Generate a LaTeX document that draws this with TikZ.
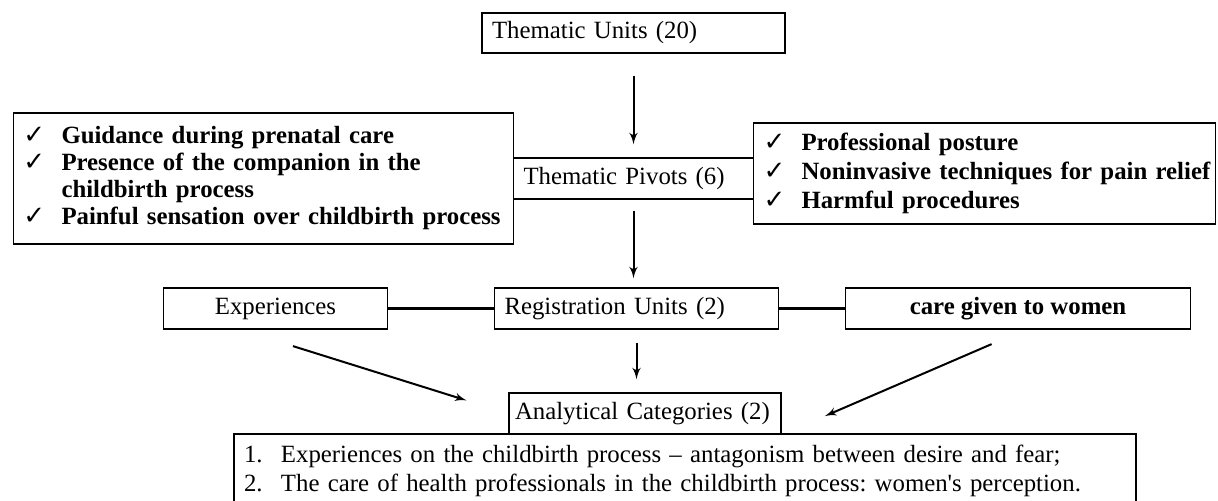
\documentclass[tikz,border=0pt]{standalone}
\usepackage{fontspec}
\setmainfont{Liberation Serif}
\newfontfamily\checkfont{DejaVu Sans}
\usepackage{tikz}
\usetikzlibrary{shapes,arrows}
\frenchspacing
\newcommand{\checkmk}{{\checkfont\bfseries\fontsize{13}{13}\selectfont ✓}}
\tikzstyle{line} = [draw, -latex', line width=1pt]
\tikzstyle{link} = [draw, line width=1.4pt]
\tikzstyle{block} = [draw, rectangle, line width=0.7pt, inner xsep=5pt, inner ysep=0pt, minimum height=20.5pt, align=left]
\tikzstyle{tag} = [draw, rectangle, line width=0.7pt, text centered, inner ysep=0pt, minimum height=20.5pt]
\tikzstyle{checks} = [draw, rectangle, line width=0.7pt, inner xsep=5pt, inner ysep=0pt, align=left]

\begin{document}
\begin{tikzpicture}[node distance=1.5cm, auto, font=\fontsize{12.4}{13.8}\selectfont]
        \useasboundingbox (0,0) rectangle (609pt,-250.5pt);
        \node[block, text width=141.5pt, minimum height=20pt] at (316.75pt,-16.5pt) (units) {Thematic Units (20)};
        \node[block, text width=110pt, below of=units, node distance=72.75pt] (pivots) {Thematic Pivots (6)};
        \node[checks, text width=240pt, minimum height=65.5pt, left of=pivots, node distance=185pt,
              font=\fontsize{12.4}{13.6}\selectfont\bfseries] (guide) {%
            \begin{tabular}{@{}p{19pt}@{}l@{}}
            \checkmk & Guidance during prenatal care\\
            \checkmk & Presence of the companion in the\\
                     & childbirth process\\
            \checkmk & Painful sensation over childbirth process
            \end{tabular}};
        \node[checks, text width=221pt, minimum height=50.5pt, right of=pivots, node distance=175.5pt, yshift=2.5pt,
              font=\fontsize{12.4}{14.5}\selectfont\bfseries] (posture) {%
            \begin{tabular}{@{}p{19pt}@{}l@{}}
            \checkmk & Professional posture\\
            \checkmk & Noninvasive techniques for pain relief\\
            \checkmk & Harmful procedures
            \end{tabular}};
        \node[block, text width=132pt, below of=pivots, node distance=65pt, xshift=1.5pt] (regis) {Registration Units (2)};
        \node[tag, minimum width=112pt, left of=regis, node distance=180.5pt] (exper) {Experiences};
        \node[tag, minimum width=172.5pt, right of=regis, node distance=190.75pt] (care) {\bfseries care given to women};
        \node[block, text width=130pt, inner xsep=3pt, below of=regis, node distance=52.5pt, xshift=4.25pt] (anal) {Analytical Categories (2)};
        \node[checks, text width=441pt, minimum height=37.5pt, below of=anal, node distance=29pt, xshift=20pt,
              font=\fontsize{12.4}{14.5}\selectfont] (cats) {%
            \begin{tabular}{@{}p{18.5pt}@{}l@{}}
            1. & Experiences on the childbirth process -- antagonism between desire and fear;\\
            2. & The care of health professionals in the childbirth process: women\textquotesingle s perception.
            \end{tabular}};
        \path[line, shorten <=11pt, shorten >=6.5pt] (units) -- (pivots);
        \path[line, shorten <=5.5pt, shorten >=4.5pt] (pivots) -- (pivots |- regis.north);
        \path[line, shorten <=6.5pt, shorten >=6.5pt] (regis) -- (regis |- anal.north);
        \draw[link] (exper) -- (regis);
        \draw[link] (regis) -- (care);
        \path[line, shorten <=27.5pt, shorten >=21.9pt] ([xshift=-17.5pt]exper.south) -- (anal.west);
        \path[line, shorten <=18.2pt, shorten >=23.5pt] ([xshift=3.5pt]care.south) -- (anal.south east);
    \end{tikzpicture}
\end{document}
